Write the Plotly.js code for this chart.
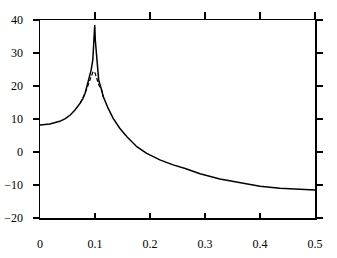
<!DOCTYPE html>
<html>
<head>
<meta charset="utf-8">
<script src="https://cdn.plot.ly/plotly-3.0.1.min.js"></script>
<style>html,body{margin:0;padding:0;background:#fff;}#chart{width:337px;height:258px;}</style>
</head>
<body>
<div id="chart"></div>
<script>
// Solid curve (frequency, dB)
var solidX = [0, 0.018, 0.036, 0.046, 0.055, 0.064, 0.073, 0.078, 0.082, 0.087, 0.093, 0.096, 0.098, 0.0995,
              0.1005, 0.1036, 0.1067, 0.112, 0.115, 0.124, 0.133, 0.145, 0.158, 0.176, 0.194, 0.218, 0.242,
              0.264, 0.291, 0.327, 0.364, 0.4, 0.436, 0.478, 0.5];
var solidY = [8.2, 8.5, 9.3, 10.1, 11.2, 12.8, 14.8, 16.2, 17.8, 20.8, 24.8, 27.9, 33.0, 38.5,
              34.0, 27.9, 21.8, 18.8, 16.8, 13.2, 10.2, 7.2, 4.6, 1.6, -0.4, -2.4, -3.9,
              -5.0, -6.6, -8.2, -9.4, -10.4, -11.0, -11.4, -11.5];
// Dashed curve (deviates only near the peak)
var dashX = [0.073, 0.082, 0.088, 0.093, 0.0965, 0.1, 0.103, 0.107, 0.112, 0.115];
var dashY = [14.8, 17.8, 20.5, 22.8, 24.4, 24.0, 22.3, 20.3, 18.8, 16.8];
var xTicks = [0, 0.1, 0.2, 0.3, 0.4, 0.5];
var xTickText = ['0', '0.1', '0.2', '0.3', '0.4', '0.5'];
var yTicks = [-20, -10, 0, 10, 20, 30, 40];

var font = {family: 'Liberation Serif, Times New Roman, serif', size: 12, color: '#000'};
var traces = [
  {x: solidX, y: solidY, mode: 'lines', line: {color: '#000', width: 1.5}, hoverinfo: 'skip', showlegend: false},
  {x: dashX, y: dashY, mode: 'lines', line: {color: '#000', width: 1.2, dash: '4px,2px'}, hoverinfo: 'skip', showlegend: false},
  {x: solidX, y: solidY, xaxis: 'x2', mode: 'lines', line: {color: 'rgba(0,0,0,0)', width: 0}, hoverinfo: 'skip', showlegend: false}
];
var layout = {
  width: 337, height: 258,
  margin: {l: 40, r: 22, t: 20, b: 40},
  paper_bgcolor: '#fff', plot_bgcolor: '#fff',
  font: font,
  showlegend: false,
  xaxis: {range: [0, 0.5], tickvals: xTicks, ticktext: xTickText, ticks: 'inside', ticklen: 5, tickwidth: 1.5, tickcolor: '#000',
          showline: true, linecolor: '#000', linewidth: 1.5, showgrid: false, zeroline: false, ticklabelstandoff: 14, tickfont: font},
  xaxis2: {range: [0, 0.5], overlaying: 'x', side: 'top', tickvals: [0.1, 0.2, 0.3, 0.4, 0.5], ticks: 'outside', ticklen: 7, tickwidth: 1.5, tickcolor: '#000',
          showline: true, linecolor: '#000', linewidth: 1.5, showgrid: false, zeroline: false, showticklabels: false},
  yaxis: {range: [-20, 40], tickvals: yTicks, ticks: 'outside', ticklen: 6, tickwidth: 1.5, tickcolor: '#000', mirror: 'ticks',
          showline: true, linecolor: '#000', linewidth: 1.5, showgrid: false, zeroline: false, ticklabelstandoff: 7, tickfont: font}
};
Plotly.newPlot('chart', traces, layout, {staticPlot: true, displayModeBar: false});
</script>
</body>
</html>
